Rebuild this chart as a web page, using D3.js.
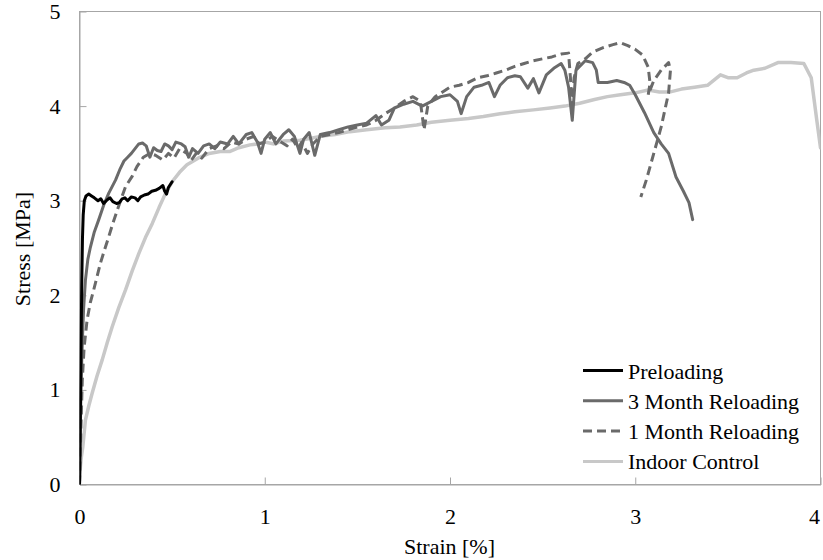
<!DOCTYPE html>
<html><head><meta charset="utf-8">
<script src="https://cdn.jsdelivr.net/npm/d3@7"></script>
<style>body{margin:0;background:#fff}svg{display:block}text{font-family:"Liberation Serif","Times New Roman",Times,"DejaVu Serif",serif;fill:#000}</style>
</head><body>
<svg id="chart" width="823" height="560"></svg>
<script>
const xTicks = [0, 1, 2, 3, 4];
const yTicks = [0, 1, 2, 3, 4, 5];
const seriesNames = ["Preloading", "3 Month Reloading", "1 Month Reloading", "Indoor Control"];

const preloading = [[0,0],[0.004,0.6],[0.008,1.4],[0.012,2.1],[0.016,2.6],[0.02,2.85],[0.026,3.0],[0.035,3.05],[0.05,3.07],[0.065,3.05],[0.08,3.03],[0.1,3.0],[0.115,3.02],[0.13,2.97],[0.15,3.01],[0.165,3.03],[0.18,2.99],[0.2,2.97],[0.215,2.98],[0.23,3.02],[0.245,3.03],[0.26,3.0],[0.28,3.04],[0.3,3.03],[0.315,3.0],[0.33,3.04],[0.35,3.06],[0.37,3.07],[0.39,3.1],[0.41,3.11],[0.43,3.13],[0.45,3.16],[0.46,3.1],[0.47,3.07],[0.48,3.14],[0.5,3.2]];

const threeMonth = [[0,0],[0.004,0.5],[0.008,1.0],[0.012,1.3],[0.016,1.55],[0.022,1.85],[0.032,2.16],[0.045,2.38],[0.059,2.51],[0.08,2.67],[0.104,2.8],[0.13,2.95],[0.158,3.08],[0.195,3.22],[0.22,3.34],[0.24,3.42],[0.26,3.46],[0.28,3.5],[0.3,3.55],[0.32,3.6],[0.34,3.61],[0.36,3.58],[0.38,3.46],[0.4,3.56],[0.42,3.53],[0.44,3.52],[0.46,3.6],[0.48,3.58],[0.5,3.54],[0.52,3.62],[0.55,3.6],[0.57,3.57],[0.59,3.46],[0.61,3.55],[0.64,3.5],[0.67,3.58],[0.7,3.6],[0.73,3.55],[0.76,3.62],[0.8,3.6],[0.83,3.68],[0.86,3.6],[0.9,3.7],[0.93,3.72],[0.96,3.62],[0.98,3.5],[1.0,3.65],[1.03,3.72],[1.06,3.6],[1.1,3.7],[1.13,3.75],[1.16,3.68],[1.19,3.5],[1.21,3.65],[1.24,3.72],[1.27,3.48],[1.3,3.7],[1.35,3.72],[1.4,3.75],[1.45,3.78],[1.5,3.8],[1.55,3.82],[1.6,3.9],[1.63,3.8],[1.67,3.85],[1.7,3.98],[1.75,4.02],[1.8,4.05],[1.85,4.0],[1.9,4.05],[1.95,4.1],[2.0,4.12],[2.04,4.05],[2.06,3.92],[2.09,4.1],[2.13,4.2],[2.17,4.22],[2.21,4.25],[2.24,4.1],[2.27,4.22],[2.31,4.3],[2.35,4.32],[2.38,4.31],[2.42,4.19],[2.45,4.29],[2.48,4.14],[2.52,4.33],[2.56,4.4],[2.6,4.45],[2.62,4.38],[2.64,4.2],[2.66,3.85],[2.68,4.38],[2.73,4.48],[2.77,4.46],[2.79,4.38],[2.8,4.25],[2.85,4.25],[2.9,4.27],[2.94,4.25],[2.97,4.22],[3.0,4.12],[3.05,3.93],[3.1,3.72],[3.14,3.6],[3.18,3.5],[3.22,3.25],[3.26,3.1],[3.29,2.98],[3.31,2.8]];

const oneMonth = [[0,0],[0.003,0.2],[0.005,0.4],[0.01,0.75],[0.015,1.1],[0.025,1.45],[0.041,1.74],[0.058,1.92],[0.077,2.06],[0.095,2.2],[0.113,2.34],[0.135,2.48],[0.158,2.62],[0.18,2.76],[0.204,2.9],[0.225,3.02],[0.249,3.15],[0.285,3.26],[0.31,3.36],[0.345,3.46],[0.38,3.5],[0.41,3.48],[0.45,3.43],[0.48,3.5],[0.51,3.45],[0.54,3.55],[0.58,3.5],[0.6,3.42],[0.63,3.5],[0.66,3.45],[0.7,3.55],[0.74,3.58],[0.78,3.55],[0.82,3.62],[0.86,3.6],[0.9,3.65],[0.94,3.68],[0.97,3.6],[1.0,3.62],[1.04,3.68],[1.08,3.63],[1.12,3.58],[1.15,3.65],[1.18,3.55],[1.2,3.62],[1.23,3.5],[1.26,3.6],[1.3,3.68],[1.35,3.7],[1.4,3.72],[1.45,3.75],[1.5,3.78],[1.55,3.8],[1.6,3.85],[1.65,3.92],[1.7,3.98],[1.75,4.05],[1.8,4.1],[1.84,4.05],[1.86,3.75],[1.88,4.0],[1.92,4.1],[1.96,4.15],[2.0,4.2],[2.05,4.22],[2.1,4.25],[2.15,4.3],[2.2,4.32],[2.25,4.35],[2.3,4.38],[2.35,4.42],[2.4,4.45],[2.45,4.48],[2.5,4.5],[2.55,4.52],[2.6,4.55],[2.64,4.56],[2.65,4.3],[2.66,4.0],[2.67,4.3],[2.69,4.45],[2.73,4.5],[2.77,4.57],[2.83,4.62],[2.88,4.65],[2.92,4.67],[2.96,4.64],[3.0,4.6],[3.04,4.54],[3.07,4.41],[3.08,4.24],[3.07,4.12],[3.1,4.27],[3.14,4.38],[3.18,4.46],[3.19,4.38],[3.18,4.14],[3.14,3.78],[3.1,3.5],[3.06,3.22],[3.03,3.04]];

const indoor = [[0,0],[0.005,0.19],[0.01,0.29],[0.018,0.4],[0.032,0.68],[0.05,0.83],[0.069,0.97],[0.095,1.15],[0.123,1.32],[0.15,1.5],[0.177,1.67],[0.212,1.87],[0.249,2.06],[0.285,2.26],[0.32,2.44],[0.356,2.61],[0.393,2.76],[0.43,2.93],[0.465,3.08],[0.5,3.2],[0.54,3.3],[0.58,3.38],[0.64,3.45],[0.7,3.5],[0.76,3.52],[0.81,3.52],[0.86,3.56],[0.92,3.59],[0.96,3.6],[1.0,3.62],[1.05,3.6],[1.1,3.63],[1.19,3.64],[1.25,3.66],[1.3,3.68],[1.38,3.7],[1.46,3.73],[1.55,3.75],[1.65,3.77],[1.73,3.78],[1.82,3.8],[1.9,3.83],[2.0,3.85],[2.1,3.87],[2.18,3.89],[2.27,3.92],[2.35,3.94],[2.45,3.96],[2.54,3.98],[2.62,4.0],[2.7,4.03],[2.78,4.07],[2.85,4.1],[2.92,4.12],[3.0,4.14],[3.07,4.17],[3.13,4.15],[3.19,4.15],[3.25,4.18],[3.32,4.2],[3.39,4.22],[3.46,4.33],[3.5,4.3],[3.55,4.3],[3.6,4.35],[3.64,4.38],[3.7,4.4],[3.77,4.46],[3.84,4.46],[3.91,4.45],[3.95,4.3],[3.98,3.85],[4.0,3.56]];

const svg = d3.select("#chart");
const L = 79.5, R = 820.5, T = 11.5, B = 484.5;
const x = d3.scaleLinear().domain([0, 4]).range([L, R]);
const y = d3.scaleLinear().domain([0, 5]).range([B, T]);
const FONT = '"Liberation Serif","Times New Roman",Times,"DejaVu Serif",serif';

// frame
svg.append("rect").attr("x", L).attr("y", T).attr("width", R - L).attr("height", B - T)
  .attr("fill", "none").attr("stroke", "#a6a6a6").attr("stroke-width", 1);

// axes
const xAxis = svg.append("g").attr("transform", `translate(0,${B})`)
  .call(d3.axisBottom(x).tickValues(xTicks).tickSize(-7).tickPadding(24).tickFormat(d3.format("d")));
const yAxis = svg.append("g").attr("transform", `translate(${L},0)`)
  .call(d3.axisLeft(y).tickValues(yTicks).tickSize(-7).tickPadding(19).tickFormat(d3.format("d")));
[xAxis, yAxis].forEach(a => {
  a.attr("font-family", FONT);
  a.select(".domain").attr("stroke", "#a6a6a6");
  a.selectAll(".tick line").attr("stroke", "#a6a6a6");
  a.selectAll("text").style("font-size", "22px").style("font-family", FONT).attr("fill", "#000");
});
xAxis.selectAll(".tick").filter(d => d === 0 || d === 4).select("line").remove();
yAxis.selectAll(".tick").filter(d => d === 0 || d === 5).select("line").remove();
// keep the last x label inside the window
xAxis.selectAll(".tick").filter(d => d === 4).select("text").attr("text-anchor", "end").attr("dx", -1);

svg.append("text").attr("x", 449.5).attr("y", 554).attr("text-anchor", "middle")
  .style("font-size", "22px").style("font-family", FONT).text("Strain [%]");
svg.append("text").attr("transform", "translate(30,249) rotate(-90)").attr("text-anchor", "middle")
  .style("font-size", "22px").style("font-family", FONT).text("Stress [MPa]");

// clip
svg.append("clipPath").attr("id", "clip").append("rect")
  .attr("x", L).attr("y", T).attr("width", R - L).attr("height", B - T);

const line = d3.line().x(d => x(d[0])).y(d => y(d[1]));
const styles = [
  {data: indoor, color: "#c8c8c8", width: 3.5, dash: null},
  {data: oneMonth, color: "#6a6a6a", width: 3, dash: "9,5"},
  {data: threeMonth, color: "#6a6a6a", width: 3, dash: null},
  {data: preloading, color: "#000000", width: 3, dash: null}
];
const g = svg.append("g").attr("clip-path", "url(#clip)");
styles.forEach(s => {
  g.append("path").datum(s.data).attr("d", line).attr("fill", "none")
    .attr("stroke", s.color).attr("stroke-width", s.width)
    .attr("stroke-linejoin", "round").attr("stroke-linecap", s.dash ? "butt" : "round")
    .attr("stroke-dasharray", s.dash);
});

// legend
const legendStyles = [
  {color: "#000000", dash: null},
  {color: "#6a6a6a", dash: null},
  {color: "#6a6a6a", dash: "9,5"},
  {color: "#c8c8c8", dash: null}
];
const lg = svg.append("g");
seriesNames.forEach((name, i) => {
  const yy = 370.5 + i * 30.3;
  lg.append("line").attr("x1", 583).attr("x2", 623).attr("y1", yy).attr("y2", yy)
    .attr("stroke", legendStyles[i].color).attr("stroke-width", 3)
    .attr("stroke-dasharray", legendStyles[i].dash);
  lg.append("text").attr("x", 628).attr("y", yy + 8).style("font-size", "22px")
    .style("font-family", FONT).text(name);
});
</script>
</body></html>
